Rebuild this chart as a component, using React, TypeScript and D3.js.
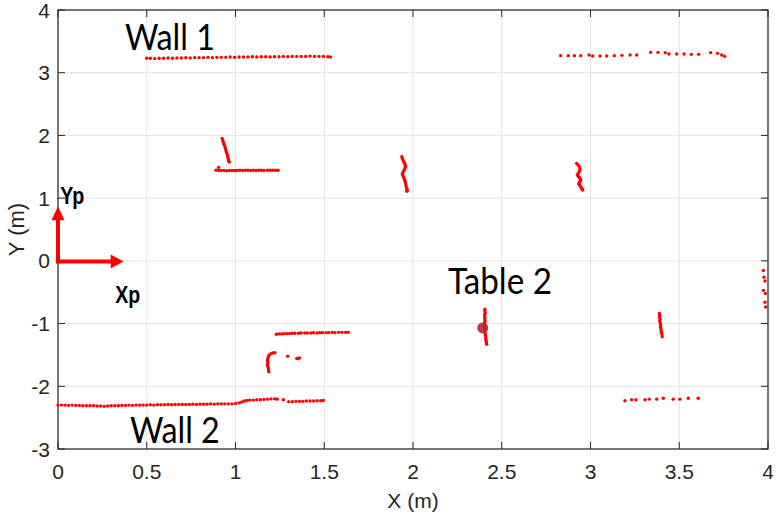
import React from "react";
import * as d3 from "d3";

const W = 779;
const H = 514;
const M = { left: 58, top: 10, right: 11, bottom: 65 };

const xTicks = [0, 0.5, 1, 1.5, 2, 2.5, 3, 3.5, 4];
const yTicks = [-3, -2, -1, 0, 1, 2, 3, 4];
const xTickLabels = ["0", "0.5", "1", "1.5", "2", "2.5", "3", "3.5", "4"];
const yTickLabels = ["-3", "-2", "-1", "0", "1", "2", "3", "4"];

type P = [number, number];

const wall1: P[] = [
  [0.5, 3.23], [0.52, 3.23], [0.545, 3.225], [0.57, 3.23], [0.595, 3.23], [0.62, 3.235], [0.645, 3.23],
  [0.67, 3.235], [0.695, 3.235], [0.72, 3.24], [0.745, 3.235], [0.77, 3.24], [0.795, 3.24], [0.82, 3.24],
  [0.845, 3.245], [0.87, 3.24], [0.895, 3.245], [0.92, 3.245], [0.945, 3.245], [0.97, 3.25], [0.995, 3.245],
  [1.02, 3.25], [1.045, 3.25], [1.07, 3.25], [1.095, 3.255], [1.12, 3.25], [1.145, 3.255], [1.17, 3.255],
  [1.195, 3.25], [1.22, 3.255], [1.245, 3.255], [1.27, 3.26], [1.295, 3.255], [1.32, 3.26], [1.345, 3.26],
  [1.37, 3.26], [1.395, 3.26], [1.42, 3.265], [1.445, 3.26], [1.47, 3.26], [1.495, 3.26], [1.52, 3.255], [1.535, 3.25],
];

const wallTopRight: P[] = [
  [2.832, 3.272], [2.875, 3.272], [2.909, 3.272], [2.945, 3.272], [2.992, 3.282], [3.012, 3.266],
  [3.054, 3.266], [3.091, 3.266], [3.134, 3.272], [3.177, 3.277], [3.223, 3.282], [3.26, 3.282],
  [3.339, 3.325], [3.38, 3.325], [3.421, 3.32], [3.442, 3.298], [3.486, 3.298], [3.527, 3.298],
  [3.568, 3.293], [3.609, 3.293], [3.677, 3.32], [3.716, 3.309], [3.739, 3.282], [3.756, 3.261],
];

const postA: P[] = [
  [0.925, 1.95], [0.928, 1.92], [0.932, 1.89], [0.935, 1.86], [0.94, 1.83], [0.942, 1.8], [0.945, 1.77],
  [0.948, 1.74], [0.952, 1.71], [0.955, 1.68], [0.957, 1.65], [0.96, 1.62], [0.962, 1.59], [0.965, 1.575],
  [0.905, 1.49],
];

const shelfB: P[] = [
  [0.89, 1.445], [0.905, 1.44], [0.92, 1.44], [0.935, 1.44], [0.95, 1.435], [0.965, 1.44], [0.98, 1.44],
  [0.995, 1.44], [1.01, 1.44], [1.025, 1.445], [1.04, 1.44], [1.055, 1.445], [1.07, 1.445], [1.085, 1.44],
  [1.1, 1.445], [1.115, 1.44], [1.13, 1.445], [1.145, 1.445], [1.16, 1.44], [1.18, 1.445], [1.195, 1.445],
  [1.21, 1.445], [1.225, 1.445], [1.24, 1.445],
];

const postC: P[] = [
  [1.937, 1.66], [1.94, 1.63], [1.945, 1.6], [1.95, 1.57], [1.955, 1.54], [1.958, 1.51], [1.955, 1.48],
  [1.95, 1.45], [1.945, 1.42], [1.94, 1.39], [1.942, 1.36], [1.948, 1.33], [1.952, 1.3], [1.955, 1.27],
  [1.958, 1.24], [1.96, 1.21], [1.962, 1.18], [1.965, 1.15], [1.968, 1.13], [1.966, 1.11],
];

const postD: P[] = [
  [2.922, 1.555], [2.93, 1.527], [2.937, 1.5], [2.94, 1.475], [2.941, 1.448], [2.936, 1.42], [2.931, 1.395],
  [2.926, 1.368], [2.932, 1.35], [2.937, 1.331], [2.942, 1.31], [2.945, 1.289], [2.942, 1.268], [2.937, 1.246],
  [2.933, 1.225], [2.94, 1.204], [2.945, 1.182], [2.95, 1.16], [2.953, 1.141], [2.956, 1.13],
];

const shelfLow: P[] = [
  [1.23, -1.17], [1.245, -1.165], [1.26, -1.165], [1.275, -1.16], [1.29, -1.16], [1.305, -1.16], [1.32, -1.155],
  [1.335, -1.155], [1.355, -1.155], [1.37, -1.15], [1.39, -1.15], [1.405, -1.15], [1.425, -1.15], [1.44, -1.145],
  [1.46, -1.15], [1.475, -1.145], [1.49, -1.145], [1.51, -1.145], [1.525, -1.145], [1.545, -1.14], [1.56, -1.145],
  [1.58, -1.14], [1.6, -1.14], [1.62, -1.14], [1.635, -1.14],
];

const bracketLow: P[] = [
  [1.222, -1.465], [1.21, -1.47], [1.2, -1.48], [1.19, -1.5], [1.185, -1.53], [1.182, -1.56], [1.18, -1.59],
  [1.183, -1.62], [1.18, -1.65], [1.182, -1.68], [1.185, -1.71], [1.186, -1.74], [1.188, -1.77],
  [1.294, -1.52], [1.345, -1.555], [1.36, -1.55], [1.352, -1.56],
];

const wall2: P[] = [
  [0.0, -2.3], [0.02, -2.3], [0.04, -2.3], [0.06, -2.305], [0.08, -2.3], [0.1, -2.305], [0.12, -2.305],
  [0.14, -2.31], [0.16, -2.31], [0.18, -2.31], [0.2, -2.31], [0.22, -2.315], [0.24, -2.315], [0.26, -2.32],
  [0.28, -2.315], [0.3, -2.31], [0.32, -2.31], [0.34, -2.31], [0.36, -2.305], [0.38, -2.305], [0.4, -2.3],
  [0.42, -2.305], [0.44, -2.3], [0.46, -2.3], [0.48, -2.3], [0.5, -2.3], [0.52, -2.295], [0.54, -2.3],
  [0.56, -2.295], [0.58, -2.295], [0.6, -2.295], [0.62, -2.29], [0.64, -2.295], [0.66, -2.29], [0.68, -2.29],
  [0.7, -2.29], [0.72, -2.29], [0.74, -2.29], [0.76, -2.285], [0.78, -2.29], [0.8, -2.285], [0.82, -2.285],
  [0.84, -2.285], [0.86, -2.28], [0.88, -2.285], [0.9, -2.28], [0.92, -2.28], [0.94, -2.28], [0.96, -2.28],
  [0.98, -2.28], [1.0, -2.275], [1.02, -2.265], [1.035, -2.25], [1.05, -2.235], [1.065, -2.225], [1.08, -2.22],
  [1.1, -2.22], [1.12, -2.215], [1.14, -2.215], [1.16, -2.21], [1.18, -2.205], [1.2, -2.2], [1.22, -2.2],
  [1.235, -2.205], [1.27, -2.215], [1.3, -2.245], [1.32, -2.245], [1.34, -2.24], [1.36, -2.24], [1.38, -2.24],
  [1.4, -2.235], [1.42, -2.235], [1.44, -2.235], [1.46, -2.23], [1.48, -2.23], [1.495, -2.225],
];

const table2: P[] = [
  [2.405, -0.77], [2.405, -0.8], [2.407, -0.83], [2.403, -0.86], [2.405, -0.89], [2.404, -0.92], [2.406, -0.95],
  [2.404, -0.98], [2.402, -1.01], [2.403, -1.04], [2.405, -1.07], [2.404, -1.1], [2.405, -1.13], [2.407, -1.16],
  [2.408, -1.19], [2.41, -1.22], [2.41, -1.25], [2.412, -1.28], [2.414, -1.31], [2.415, -1.33],
];
const table2Center: P[] = [[2.393, -1.07]];

const postE: P[] = [
  [3.388, -0.84], [3.39, -0.87], [3.389, -0.9], [3.392, -0.93], [3.39, -0.96], [3.393, -0.99], [3.395, -1.02],
  [3.394, -1.05], [3.397, -1.08], [3.398, -1.11], [3.4, -1.14], [3.402, -1.17], [3.404, -1.21],
];

const edgeRight: P[] = [
  [3.974, -0.154], [3.977, -0.26], [3.983, -0.32], [3.974, -0.47], [3.985, -0.52], [3.983, -0.66], [3.987, -0.735],
];

const wallBottomRight: P[] = [
  [3.194, -2.23], [3.232, -2.215], [3.256, -2.215], [3.307, -2.215], [3.331, -2.205], [3.373, -2.205],
  [3.41, -2.19], [3.466, -2.205], [3.504, -2.205], [3.551, -2.19], [3.607, -2.19],
];

const scanSeries: P[][] = [
  wall1, wallTopRight, postA, shelfB, postC, postD, shelfLow, bracketLow, wall2, table2, postE, edgeRight, wallBottomRight,
];

type Note = { text: string; x: number; y: number; len: number; bold?: boolean };
const notes: Note[] = [
  { text: "Wall 1", x: 0.377, y: 3.36, len: 90 },
  { text: "Wall 2", x: 0.405, y: -2.9, len: 90 },
  { text: "Table 2", x: 2.197, y: -0.53, len: 104 },
];
const frameNotes: Note[] = [
  { text: "Yp", x: 0.012, y: 0.9, len: 24, bold: true },
  { text: "Xp", x: 0.322, y: -0.67, len: 25, bold: true },
];
const frameOrigin: P = [0, -0.01];
const frameXTip = 0.37;
const frameYTip = 0.87;

export default function App() {
  const pw = W - M.left - M.right;
  const ph = H - M.top - M.bottom;
  const x = d3.scaleLinear().domain([0, 4]).range([M.left, M.left + pw]);
  const y = d3.scaleLinear().domain([-3, 4]).range([M.top + ph, M.top]);
  const axisColor = "#262626";
  const gridColor = "#e3e3e3";
  const tickLen = 7;
  const font = "'Liberation Sans', Arial, sans-serif";
  const noteFont = "Lato, 'Open Sans', sans-serif";

  const ox = x(frameOrigin[0]);
  const oy = y(frameOrigin[1]);
  const xt = x(frameXTip);
  const yt = y(frameYTip);

  return (
    <svg width={W} height={H} style={{ position: "absolute", left: 0, top: 0, background: "#fff" }}>
      <rect x={0} y={0} width={W} height={H} fill="#fff" />
      {xTicks.map((t) => (
        <line key={"gx" + t} x1={x(t)} x2={x(t)} y1={M.top} y2={M.top + ph} stroke={gridColor} strokeWidth={1} />
      ))}
      {yTicks.map((t) => (
        <line key={"gy" + t} x1={M.left} x2={M.left + pw} y1={y(t)} y2={y(t)} stroke={gridColor} strokeWidth={1} />
      ))}
      {xTicks.map((t) => (
        <g key={"tx" + t}>
          <line x1={x(t)} x2={x(t)} y1={M.top + ph} y2={M.top + ph - tickLen} stroke={axisColor} />
          <line x1={x(t)} x2={x(t)} y1={M.top} y2={M.top + tickLen} stroke={axisColor} />
        </g>
      ))}
      {yTicks.map((t) => (
        <g key={"ty" + t}>
          <line x1={M.left} x2={M.left + tickLen} y1={y(t)} y2={y(t)} stroke={axisColor} />
          <line x1={M.left + pw} x2={M.left + pw - tickLen} y1={y(t)} y2={y(t)} stroke={axisColor} />
        </g>
      ))}
      <rect x={M.left} y={M.top} width={pw} height={ph} fill="none" stroke={axisColor} strokeWidth={1.2} />
      {xTicks.map((t, i) => (
        <text key={"lx" + t} x={x(t)} y={M.top + ph + 30} textAnchor="middle" fontFamily={font} fontSize={21} fill={axisColor}>
          {xTickLabels[i]}
        </text>
      ))}
      {yTicks.map((t, i) => (
        <text key={"ly" + t} x={M.left - 8} y={y(t) + 7.5} textAnchor="end" fontFamily={font} fontSize={21} fill={axisColor}>
          {yTickLabels[i]}
        </text>
      ))}
      <text x={x(2)} y={H - 6} textAnchor="middle" fontFamily={font} fontSize={21} fill={axisColor}>
        X (m)
      </text>
      <text
        transform={`translate(24, ${M.top + ph / 2}) rotate(-90)`}
        textAnchor="middle"
        fontFamily={font}
        fontSize={22}
        fill={axisColor}
      >
        Y (m)
      </text>

      {scanSeries.map((s, si) => (
        <g key={"s" + si}>
          {s.map((p, pi) => (
            <circle key={pi} cx={x(p[0])} cy={y(p[1])} r={1.7} fill="#ff0000" />
          ))}
        </g>
      ))}
      {table2Center.map((p, i) => (
        <circle key={"c" + i} cx={x(p[0])} cy={y(p[1])} r={5.5} fill="#b8262a" opacity={0.9} />
      ))}

      <line x1={ox} y1={oy} x2={xt - 11} y2={oy} stroke="#ff0000" strokeWidth={4} />
      <polygon points={`${xt},${oy} ${xt - 13},${oy - 7} ${xt - 13},${oy + 7}`} fill="#ff0000" />
      <line x1={ox} y1={oy + 2} x2={ox} y2={yt + 11} stroke="#ff0000" strokeWidth={4} />
      <polygon points={`${ox},${yt} ${ox - 6.5},${yt + 14} ${ox + 6.5},${yt + 14}`} fill="#ff0000" />

      {notes.map((n) => (
        <text
          key={n.text}
          x={x(n.x)}
          y={y(n.y)}
          fontFamily={noteFont}
          fontSize={37}
          textLength={n.len}
          lengthAdjust="spacingAndGlyphs"
          fill="#000"
        >
          {n.text}
        </text>
      ))}
      {frameNotes.map((n) => (
        <text
          key={n.text}
          x={x(n.x)}
          y={y(n.y)}
          fontFamily={font}
          fontWeight="bold"
          fontSize={24}
          textLength={n.len}
          lengthAdjust="spacingAndGlyphs"
          fill="#000"
        >
          {n.text}
        </text>
      ))}
    </svg>
  );
}
